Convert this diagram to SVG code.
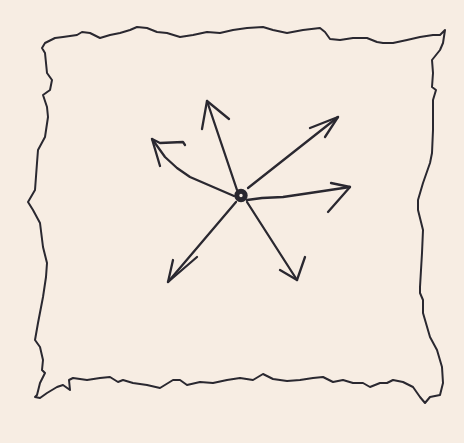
<svg xmlns="http://www.w3.org/2000/svg" width="464" height="443" viewBox="0 0 464 443">
<style>
.ink{fill:none;stroke:#2a2830;stroke-width:2.3;stroke-linecap:round;stroke-linejoin:round}
.frame{fill:none;stroke:#2a2830;stroke-width:2;stroke-linejoin:round}
</style>
<rect width="464" height="443" fill="#f7ede3"/>
<g id="frame">
<path class="frame" d="M42,48 L45,43 L55,38 L63,37 L77,35 L82,32 L90,33 L100,38 L110,35 L120,33 L130,30 L137,27 L147,28 L157,32 L167,33 L180,37 L193,35 L207,32 L220,33 L233,30 L247,28 L263,27 L273,30 L287,33 L303,30 L320,28 L325,32 L330,39 L340,40 L353,38 L367,38 L377,42 L383,43 L393,43 L407,40 L420,37 L433,35 L440,35 L445,30 L443,43 L440,50 L432,60 L433,73 L432,87 L436,90 L433,100 L433,130 L432,153 L430,163 L423,183 L418,200 L418,210 L423,230 L422,253 L420,287 L420,293 L423,300 L423,313 L430,337 L437,350 L442,367 L443,383 L440,395 L430,397 L425,403 L420,397 L413,387 L403,382 L393,380 L387,383 L380,383 L370,387 L363,383 L353,383 L343,380 L333,382 L323,377 L313,378 L300,380 L287,381 L273,379 L263,374 L253,380 L240,378 L227,380 L213,383 L200,382 L187,385 L180,380 L173,380 L160,388 L147,385 L133,383 L123,380 L118,382 L110,377 L100,378 L87,380 L73,378 L69,380 L70,390 L63,385 L57,387 L47,393 L40,398 L35,397 L37,395 L40,383 L45,373 L42,370 L43,360 L40,347 L35,340 L38,323 L43,297 L46,277 L47,263 L43,247 L40,223 L33,210 L28,202 L35,190 L37,163 L38,150 L45,137 L48,117 L47,107 L43,95 L50,90 L52,80 L47,73 L45,53 Z"/>
</g>
<g id="connectors">
<path class="ink" d="M237,190 L207,101"/>
<path class="ink" d="M202,129 L207,101 L229,119"/>
<path class="ink" d="M234,196 L190,177 L177,168 L165,157 L155,143 L152,139"/>
<path class="ink" d="M160,166 L152,139 L160,143 L183,142 L185,145"/>
<path class="ink" d="M248,188 L338,117"/>
<path class="ink" d="M310,128 L338,117 L325,137"/>
<path class="ink" d="M247,200 L262,198 L283,197 L310,193 L350,187"/>
<path class="ink" d="M331,183 L350,187 L328,212"/>
<path class="ink" d="M236,202 L168,282"/>
<path class="ink" d="M173,260 L168,282 L197,257"/>
<path class="ink" d="M247,202 L297,280"/>
<path class="ink" d="M280,270 L297,280 L305,257"/>
</g>
<g id="center">
<circle cx="241" cy="195.5" r="4.2" fill="none" stroke="#2a2830" stroke-width="5"/>
</g>
</svg>
